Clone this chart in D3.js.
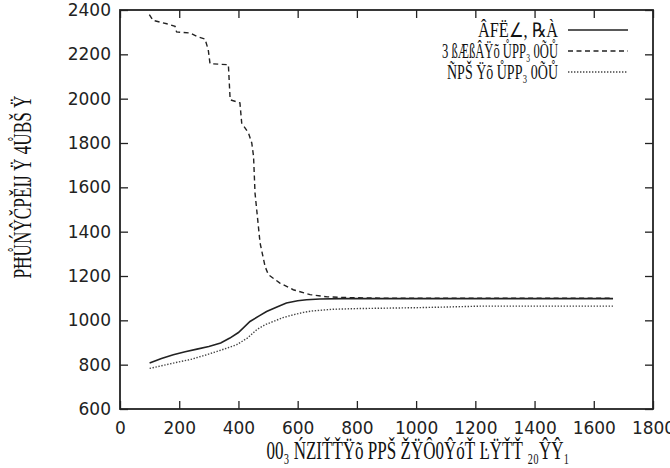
<!DOCTYPE html>
<meta charset="utf-8">
<style>
body { margin: 0; background: #fff; }
text { fill: #111; }
.tick text { font-family: "DejaVu Sans", sans-serif; font-size: 17px; fill: #222; }
.garb { font-family: "Liberation Serif", serif; font-size: 20px; }
</style>
<body>
<script src="https://d3js.org/d3.v7.min.js"></script>
<script>
var width = 670,
	height = 468,
	pLeft = 120, pRight = 653, pTop = 10, pBottom = 409;

// x ticks / y ticks
var xTicks = [0, 200, 400, 600, 800, 1000, 1200, 1400, 1600, 1800];
var yTicks = [600, 800, 1000, 1200, 1400, 1600, 1800, 2000, 2200, 2400];

// series 1 (solid)
var solidX = [100, 140, 180, 220, 260, 300, 340, 371, 400, 439, 470, 495, 530, 562, 600, 630, 675, 750, 850, 1000, 1200, 1400, 1665];
var solidY = [808, 828, 845, 858, 870, 882, 898, 920, 945, 995, 1020, 1040, 1060, 1078, 1088, 1093, 1096, 1098, 1098, 1098, 1098, 1098, 1098];

// series 2 (dashed)
var dashX = [99, 112, 158, 186, 191, 237, 259, 287, 298, 304, 366, 372, 405, 411, 434, 445, 451, 456, 473, 490, 501, 540, 585, 642, 700, 780, 900, 1200, 1665];
var dashY = [2379, 2353, 2338, 2326, 2301, 2296, 2281, 2269, 2221, 2158, 2153, 1995, 1981, 1890, 1845, 1800, 1740, 1574, 1349, 1243, 1206, 1168, 1138, 1116, 1106, 1102, 1100, 1100, 1100];

// series 3 (dotted)
var dotX = [100, 140, 180, 240, 293, 340, 394, 430, 462, 490, 518, 550, 585, 620, 653, 720, 800, 900, 1000, 1100, 1216, 1400, 1665];
var dotY = [783, 795, 807, 824, 845, 865, 890, 920, 958, 980, 995, 1012, 1025, 1036, 1043, 1050, 1053, 1055, 1057, 1060, 1064, 1064, 1064];

var legendNames = ["ÂFË∠, ℞À", "3 ßÆßÂŸõ ŮPP₃ 0ÕŮ", "ÑPŠ Ÿõ ŮPP₃ 0ÕŮ"];
var xLabel = "00₃ ŃZIŤŤŸõ PPŠ ŽŸÔ0ŶóŤ ĿŸŤŤ ₂₀ŶŶ₁";
var yLabel = "PĦŮŃŶČPĚĲ Ÿ 4ŮBŠ Ÿ";

var svg = d3.select("body").append("svg")
	.attr("width", width)
	.attr("height", height);

var x = d3.scaleLinear().domain([0, 1800]).range([pLeft, pRight]);
var y = d3.scaleLinear().domain([600, 2400]).range([pBottom, pTop]);
var fmt = d3.format("d");

// axes, ticks pointing inward, mirrored on top/right
svg.append("g").attr("transform", "translate(0," + pBottom + ")")
	.call(d3.axisBottom(x).tickValues(xTicks).tickFormat(fmt).tickSizeInner(-8).tickSizeOuter(0).tickPadding(13));
svg.append("g").attr("transform", "translate(" + pLeft + ",0)")
	.call(d3.axisLeft(y).tickValues(yTicks).tickFormat(fmt).tickSizeInner(-8).tickSizeOuter(0).tickPadding(9));
svg.append("g").attr("transform", "translate(0," + pTop + ")")
	.call(d3.axisTop(x).tickValues(xTicks).tickSizeInner(-8).tickSizeOuter(0).tickFormat(""));
svg.append("g").attr("transform", "translate(" + pRight + ",0)")
	.call(d3.axisRight(y).tickValues(yTicks).tickSizeInner(-8).tickSizeOuter(0).tickFormat(""));

svg.selectAll(".domain").remove();
svg.selectAll(".tick line").attr("stroke", "#222").attr("stroke-width", 1.3);

svg.append("rect")
	.attr("x", pLeft).attr("y", pTop)
	.attr("width", pRight - pLeft).attr("height", pBottom - pTop)
	.attr("fill", "none").attr("stroke", "#222").attr("stroke-width", 1.8);

var line = d3.line().x(function(d) { return x(d[0]); }).y(function(d) { return y(d[1]); });

var series = [
	{ pts: d3.zip(solidX, solidY), dash: null, w: 1.6, c: "#222" },
	{ pts: d3.zip(dashX, dashY), dash: "5,3.5", w: 1.4, c: "#222" },
	{ pts: d3.zip(dotX, dotY), dash: "1.4,1.6", w: 1.4, c: "#444" }
];

svg.selectAll(".series").data(series).enter().append("path")
	.attr("class", "series")
	.attr("d", function(d) { return line(d.pts); })
	.attr("fill", "none")
	.attr("stroke", function(d) { return d.c; })
	.attr("stroke-width", function(d) { return d.w; })
	.attr("stroke-dasharray", function(d) { return d.dash; });

// legend
var legW = [80, 116, 111];
var leg = svg.selectAll(".leg").data(series).enter().append("g")
	.attr("class", "leg")
	.attr("transform", function(d, i) { return "translate(0," + (30 + i * 21) + ")"; });
leg.append("line")
	.attr("x1", 568).attr("x2", 628)
	.attr("stroke", function(d) { return d.c; })
	.attr("stroke-width", function(d) { return d.w; })
	.attr("stroke-dasharray", function(d) { return d.dash; });
leg.append("text")
	.attr("class", "garb")
	.attr("x", 558).attr("y", 7)
	.attr("text-anchor", "end")
	.attr("textLength", function(d, i) { return legW[i]; })
	.attr("lengthAdjust", "spacingAndGlyphs")
	.text(function(d, i) { return legendNames[i]; });

svg.append("text")
	.attr("class", "garb")
	.attr("x", 418).attr("y", 459)
	.attr("text-anchor", "middle")
	.attr("textLength", 303)
	.attr("lengthAdjust", "spacingAndGlyphs")
	.style("font-size", "25px")
	.text(xLabel);

svg.append("text")
	.attr("class", "garb")
	.attr("transform", "translate(31,187)rotate(-90)")
	.attr("text-anchor", "middle")
	.attr("textLength", 183)
	.attr("lengthAdjust", "spacingAndGlyphs")
	.style("font-size", "26px")
	.text(yLabel);
</script>
</body>
